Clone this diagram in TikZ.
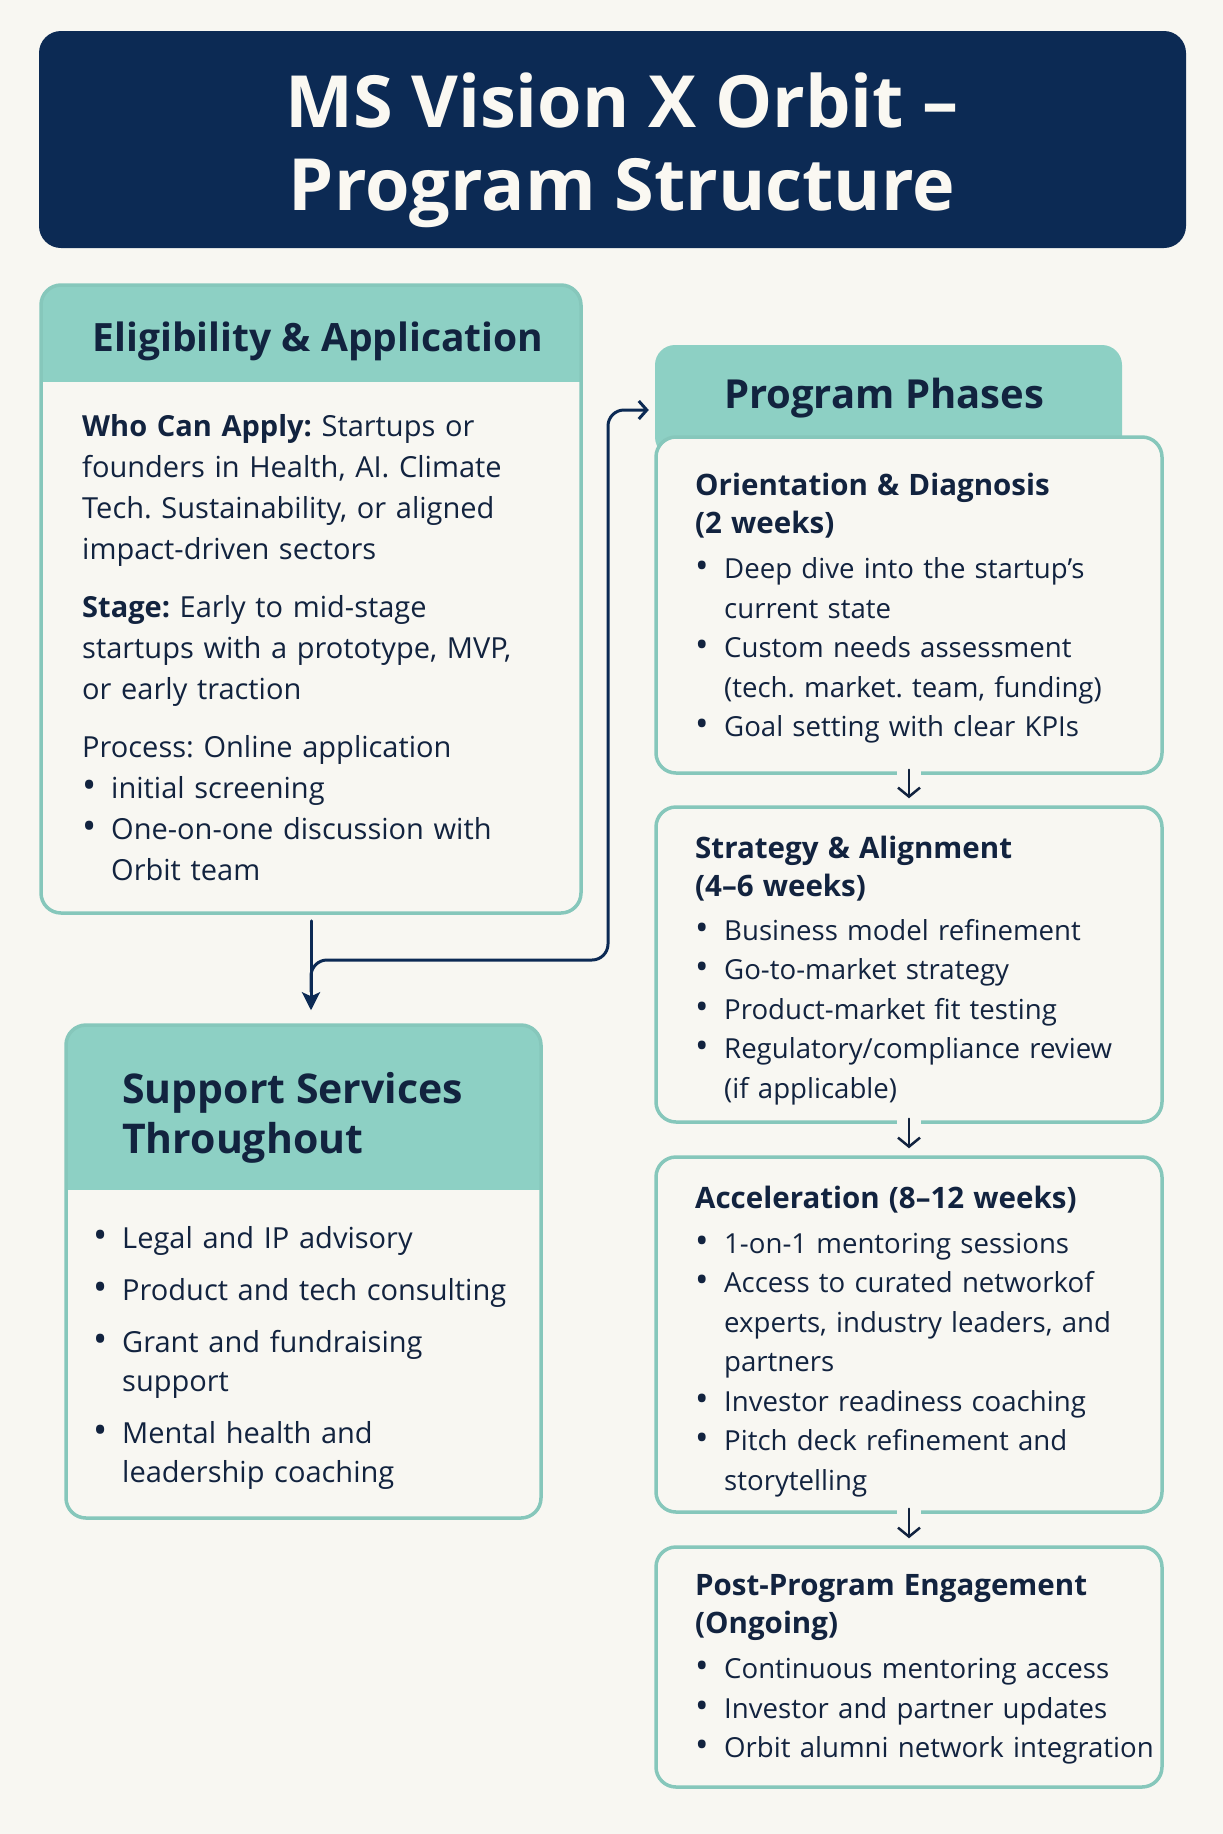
\documentclass[tikz,border=0pt]{standalone}
\usepackage{fontspec}
\setmainfont{Open Sans}
\usetikzlibrary{arrows.meta,positioning}

\definecolor{paper}{HTML}{F8F7F2}
\definecolor{navy}{HTML}{0C2A54}
\definecolor{ink}{HTML}{12233F}
\definecolor{tealfill}{HTML}{8DD0C4}
\definecolor{tealline}{HTML}{86C7BB}
\definecolor{titleink}{HTML}{FAF8F2}

\frenchspacing
\newcommand{\bul}[1]{\hangindent=29pt\hangafter=1\noindent\makebox[29pt][l]{\scalebox{1.3}{\textbullet}}#1\par}

\begin{document}
\begin{tikzpicture}[
    x=1pt,y=-1pt,
    line cap=round,
    line join=round,
    every node/.style={text=ink},
    card/.style={draw=tealline, line width=3.5pt, fill=paper, rounded corners=20pt, inner sep=0pt},
    headcard/.style={card, path picture={\fill[tealfill, sharp corners] (path picture bounding box.north west) rectangle ([yshift=-#1]path picture bounding box.north east);}},
    headtxt/.style={inner sep=0pt, font=\fontsize{40}{50}\selectfont\bfseries},
    bodytxt/.style={inner sep=0pt, anchor=base west, align=left, text width=#1, font=\fontsize{29}{41}\selectfont},
    phasetxt/.style={inner sep=0pt, anchor=base west, align=left, text width=480pt, font=\fontsize{27.6}{39.5}\selectfont},
    mainarrow/.style={draw=navy, line width=3pt, -{Stealth[length=18pt,width=18pt,inset=4pt]}},
    flow/.style={draw=navy, line width=3pt, rounded corners=16pt, -{Straight Barb[length=8pt,width=18pt]}},
    steparrow/.style={draw=ink, line width=2.5pt, -{Straight Barb[length=9pt,width=22pt]},
        preaction={draw=paper, line width=24pt, line cap=butt, -}}
]

\useasboundingbox[fill=paper] (0,0) rectangle (1223,1834);

% title
\node[fill=navy, rounded corners=22pt, minimum width=1147pt, minimum height=217pt] (title) at (612.5,139.5) {};
\node[inner sep=0pt, anchor=base, align=center, text=titleink, font=\fontsize{72}{83}\selectfont\bfseries] (titletext) at (622,210) {MS Vision X Orbit –\\Program Structure};

% left column
\node[headcard=97pt, minimum width=540pt, minimum height=628pt] (elig) at (311,599) {};
\node[headtxt, anchor=base, font=\fontsize{39}{50}\selectfont\bfseries] (eligtitle) at (318,351) {Eligibility \& Application};
\node[bodytxt=480pt] (eligtext) at (82,436) {%
    \textbf{Who Can Apply:} Startups or\newline founders in Health, AI. Climate\newline Tech. Sustainability, or aligned\newline impact-driven sectors\par\vspace{17pt}
    \noindent\textbf{Stage:} Early to mid-stage\newline startups with a prototype, MVP,\newline or early traction\par\vspace{17pt}
    \noindent Process: Online application\par
    \bul{initial screening}
    \bul{One-on-one discussion with\newline Orbit team}};

\node[headcard=165pt, minimum width=475pt, minimum height=493pt] (support) at (303.5,1271.5) {};
\node[headtxt, anchor=base west, align=left, font=\fontsize{41}{50}\selectfont\bfseries] (supporttitle) at (122,1153) {Support Services\\Throughout};
\node[bodytxt=440pt, font=\fontsize{29}{39}\selectfont] (supporttext) at (93,1248) {%
    \bul{Legal and IP advisory}\vspace{13pt}
    \bul{Product and tech consulting}\vspace{13pt}
    \bul{Grant and fundraising\newline support}\vspace{13pt}
    \bul{Mental health and\newline leadership coaching}};

% right column
\node[fill=tealfill, rounded corners=20pt, minimum width=467pt, minimum height=112pt] (phasestab) at (888.5,401) {};
\node[headtxt, anchor=base] (phasestitle) at (884,408) {Program Phases};

\node[card, minimum width=506pt, minimum height=336pt] (orient) at (909,605) {};
\node[card, minimum width=506pt, minimum height=315pt] (strategy) at (909,964.5) {};
\node[card, minimum width=506pt, minimum height=355pt] (accel) at (909,1334.5) {};
\node[card, minimum width=506pt, minimum height=240pt] (post) at (909,1667) {};

\node[phasetxt] (orienttext) at (695,495) {%
    {\fontsize{29.5}{38.5}\selectfont\bfseries Orientation \& Diagnosis\newline (2 weeks)\par}\vspace{5.5pt}
    \bul{Deep dive into the startup’s\newline current state}
    \bul{Custom needs assessment\newline (tech. market. team, funding)}
    \bul{Goal setting with clear KPIs}};
\node[phasetxt] (strategytext) at (695,858) {%
    {\fontsize{29.5}{38.5}\selectfont\bfseries Strategy \& Alignment\newline (4–6 weeks)\par}\vspace{4pt}
    \bul{Business model refinement}
    \bul{Go-to-market strategy}
    \bul{Product-market fit testing}
    \bul{Regulatory/compliance review\newline (if applicable)}};
\node[phasetxt] (acceltext) at (695,1208) {%
    {\fontsize{29.5}{38.5}\selectfont\bfseries Acceleration (8–12 weeks)\par}\vspace{5.5pt}
    \bul{1-on-1 mentoring sessions}
    \bul{Access to curated networkof\newline experts, industry leaders, and\newline partners}
    \bul{Investor readiness coaching}
    \bul{Pitch deck refinement and\newline storytelling}};
\node[phasetxt] (posttext) at (695,1595) {%
    {\fontsize{29.5}{38.5}\selectfont\bfseries Post-Program Engagement\newline (Ongoing)\par}\vspace{5.5pt}
    \bul{Continuous mentoring access}
    \bul{Investor and partner updates}
    \bul{Orbit alumni network integration}};

% connectors
\coordinate (fork) at ([yshift=-77pt]elig.south);
\coordinate (riser) at (608,960);
\draw[mainarrow] ([yshift=-6pt]elig.south) -- ([yshift=13pt]elig.south |- support.north);
\draw[flow] (fork) |- (riser) |- ([xshift=-6pt,yshift=-9pt]phasestab.west);

\foreach \a/\b in {orient/strategy, strategy/accel, accel/post}
    \draw[steparrow] ([yshift=5pt]\a.south) -- ([yshift=7pt]\b.north);

\end{tikzpicture}
\end{document}
